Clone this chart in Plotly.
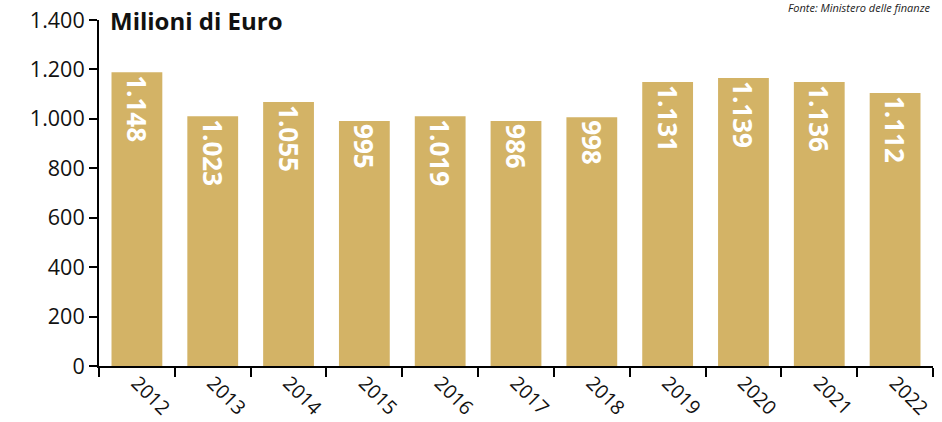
import plotly.graph_objects as go

years = ["2012", "2013", "2014", "2015", "2016", "2017", "2018", "2019", "2020", "2021", "2022"]
bar_heights = [1189, 1011, 1068, 991, 1011, 991, 1007, 1149, 1165, 1149, 1105]
value_labels = ["1.148", "1.023", "1.055", "995", "1.019", "986", "998", "1.131", "1.139", "1.136", "1.112"]
y_ticks = [0, 200, 400, 600, 800, 1000, 1200, 1400]
y_tick_text = ["0", "200", "400", "600", "800", "1.000", "1.200", "1.400"]

BAR_COLOR = "#D3B366"

fig = go.Figure(
    go.Bar(
        x=years,
        y=bar_heights,
        text=value_labels,
        textposition="inside",
        insidetextanchor="end",
        textangle=90,
        textfont=dict(family="Open Sans", size=26, color="white", weight="bold"),
        marker=dict(color=BAR_COLOR, line=dict(width=0)),
        cliponaxis=False,
        hoverinfo="skip",
    )
)

fig.update_layout(
    width=942,
    height=422,
    margin=dict(l=99, r=9, t=20, b=56, autoexpand=False),
    paper_bgcolor="white",
    plot_bgcolor="white",
    bargap=0.33,
    showlegend=False,
    font=dict(family="Open Sans", size=20, color="#111111"),
    uniformtext=dict(minsize=26, mode="show"),
)

fig.update_xaxes(
    type="category",
    automargin=False,
    showline=True,
    linecolor="black",
    linewidth=2,
    ticks="outside",
    tickson="boundaries",
    ticklen=9,
    tickwidth=2,
    tickcolor="black",
    tickangle=45,
    ticklabelstandoff=-4,
    ticklabeloverflow="allow",
    tickfont=dict(family="Open Sans", size=19.5, color="#111111"),
    showgrid=False,
    zeroline=False,
)

fig.update_yaxes(
    range=[0, 1400],
    automargin=False,
    tickvals=y_ticks,
    ticktext=y_tick_text,
    showline=True,
    linecolor="black",
    linewidth=2,
    ticks="outside",
    ticklen=8,
    tickwidth=2,
    tickcolor="black",
    ticklabeloverflow="allow",
    tickfont=dict(family="Open Sans", size=21.5, color="#111111"),
    showgrid=False,
    zeroline=False,
)

fig.add_annotation(
    text="<b>Milioni di Euro</b>",
    xref="paper", yref="paper",
    x=0.0108, y=1.0,
    xanchor="left", yanchor="middle",
    showarrow=False,
    font=dict(family="Open Sans", size=24, color="#111111"),
)

fig.add_annotation(
    text="<i>Fonte: Ministero delle finanze</i>",
    xref="paper", yref="paper",
    x=1.0, y=1.035,
    xanchor="right", yanchor="middle",
    showarrow=False,
    font=dict(family="Open Sans", size=11, color="#222222"),
)

fig.write_html(
    "out.html",
    config={"displayModeBar": False},
    post_script="document.body.style.margin='0px';",
)
